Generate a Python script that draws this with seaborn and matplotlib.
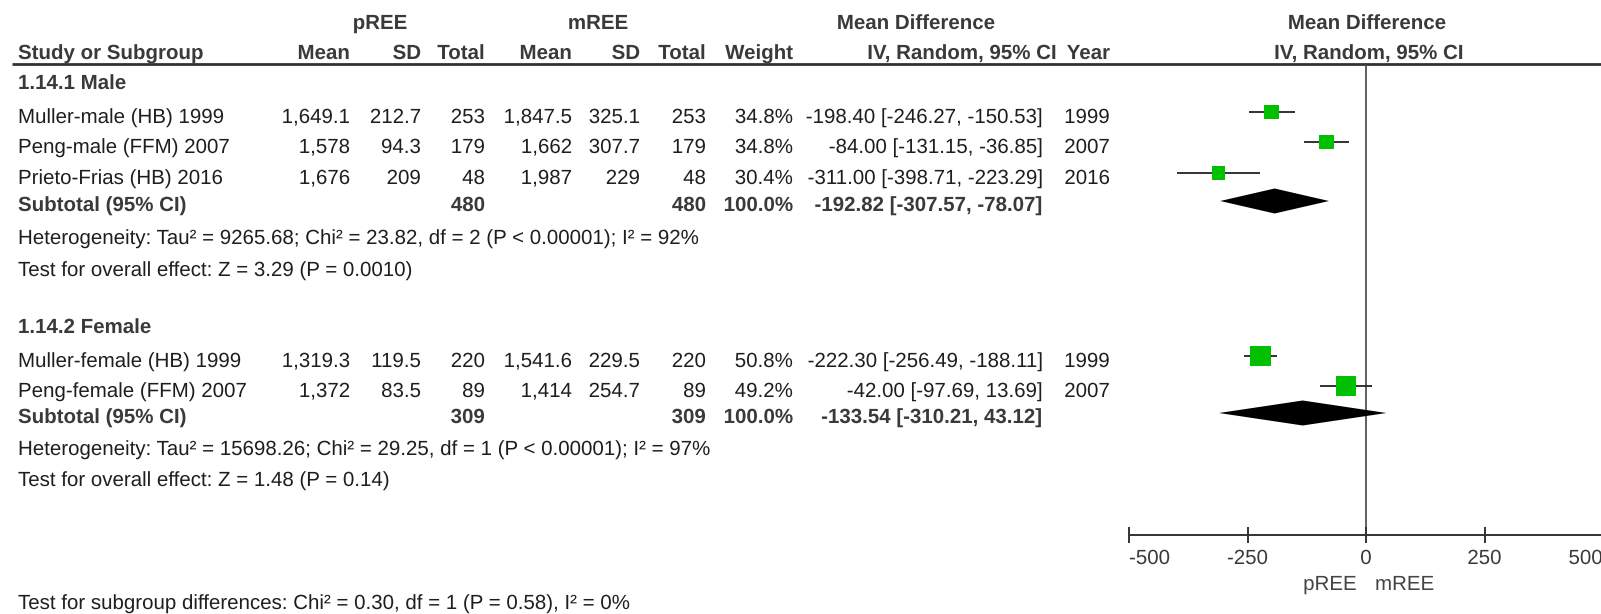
import matplotlib
matplotlib.use("Agg")
import matplotlib.pyplot as plt
import matplotlib.patheffects as pe
import pandas as pd
import seaborn as sns

# ---- study-level data -------------------------------------------------
study = ["Muller-male (HB) 1999", "Peng-male (FFM) 2007", "Prieto-Frias (HB) 2016",
         "Muller-female (HB) 1999", "Peng-female (FFM) 2007"]
subgroup = ["Male", "Male", "Male", "Female", "Female"]
p_mean = [1649.1, 1578, 1676, 1319.3, 1372]
p_sd = [212.7, 94.3, 209, 119.5, 83.5]
p_n = [253, 179, 48, 220, 89]
m_mean = [1847.5, 1662, 1987, 1541.6, 1414]
m_sd = [325.1, 307.7, 229, 229.5, 254.7]
m_n = [253, 179, 48, 220, 89]
weight = [34.8, 34.8, 30.4, 50.8, 49.2]
md = [-198.40, -84.00, -311.00, -222.30, -42.00]
ci_lo = [-246.27, -131.15, -398.71, -256.49, -97.69]
ci_hi = [-150.53, -36.85, -223.29, -188.11, 13.69]
year = [1999, 2007, 2016, 1999, 2007]

# ---- subgroup summaries -----------------------------------------------
groups = ["Male", "Female"]
group_titles = ["1.14.1 Male", "1.14.2 Female"]
sub_n = [480, 309]
sub_weight = [100.0, 100.0]
sub_md = [-192.82, -133.54]
sub_lo = [-307.57, -310.21]
sub_hi = [-78.07, 43.12]
heterogeneity = [
    "Heterogeneity: Tau\u00b2 = 9265.68; Chi\u00b2 = 23.82, df = 2 (P < 0.00001); I\u00b2 = 92%",
    "Heterogeneity: Tau\u00b2 = 15698.26; Chi\u00b2 = 29.25, df = 1 (P < 0.00001); I\u00b2 = 97%",
]
overall = [
    "Test for overall effect: Z = 3.29 (P = 0.0010)",
    "Test for overall effect: Z = 1.48 (P = 0.14)",
]
subgroup_test = "Test for subgroup differences: Chi\u00b2 = 0.30, df = 1 (P = 0.58), I\u00b2 = 0%"
axis_ticks = [-500, -250, 0, 250, 500]
favours = ["pREE", "mREE"]

# ---- figure set-up -----------------------------------------------------
sns.set_theme(style="white")
plt.rcParams["font.family"] = "Liberation Sans"
W, H, DPI = 1601, 614, 100
FS = 14.75
HEAD = "#3a3a3a"
BODY = "#1e1e1e"
LINE = "#333333"
GREEN = "#00c000"
AS_PATH = [pe.Normal()]   # draw glyphs as outlines so baselines line up exactly

fig = plt.figure(figsize=(W / DPI, H / DPI), dpi=DPI, facecolor="white")

# table layer, coordinates in pixels (y downwards)
tx = fig.add_axes([0, 0, 1, 1])
tx.set_xlim(0, W)
tx.set_ylim(H, 0)
tx.axis("off")

# forest panel: x in mean-difference units, y in pixels
PX0 = 1100
ZERO_PX = 1366
PX_PER_UNIT = 118.5 / 250
fx = fig.add_axes([PX0 / W, 0, (W - PX0) / W, 1])
fx.patch.set_alpha(0)


def put(x, y, s, ha="left", bold=False, color=None, ax=tx):
    ax.text(x, y, s, ha=ha, va="baseline", fontsize=FS,
            fontweight="bold" if bold else "normal",
            color=color or (HEAD if bold else BODY), path_effects=AS_PATH)


def fmt_num(v):
    return format(v, ",")


# column anchors (pixels)
X_STUDY = 18
X_PMEAN, X_PSD, X_PN = 350, 421, 485
X_MMEAN, X_MSD, X_MN = 572, 640, 706
X_W = 793
X_CI = 1043
X_YEAR = 1110

# headers
put(380, 29, "pREE", "center", True)
put(598, 29, "mREE", "center", True)
put(916, 29, "Mean Difference", "center", True)
put(1367, 29, "Mean Difference", "center", True)
put(X_STUDY, 59, "Study or Subgroup", bold=True)
for x, s in [(X_PMEAN, "Mean"), (X_PSD, "SD"), (X_PN, "Total"),
             (X_MMEAN, "Mean"), (X_MSD, "SD"), (X_MN, "Total"),
             (X_W, "Weight"), (1057, "IV, Random, 95% CI"), (X_YEAR, "Year")]:
    put(x, 59, s, "right", True)
put(1369, 59, "IV, Random, 95% CI", "center", True)
tx.hlines(64, 12, W, color=LINE, lw=2.0)

# row baselines (pixels)
title_base = [89, 333]
study_base = [123, 153, 184, 367, 397]
sub_base = [211, 423]
het_base = [244, 455]
ovr_base = [276, 486]

for g, title in enumerate(group_titles):
    put(X_STUDY, title_base[g], title, bold=True)
    put(X_STUDY, sub_base[g], "Subtotal (95% CI)", bold=True)
    put(X_PN, sub_base[g], str(sub_n[g]), "right", True)
    put(X_MN, sub_base[g], str(sub_n[g]), "right", True)
    put(X_W, sub_base[g], f"{sub_weight[g]:.1f}%", "right", True)
    put(X_CI, sub_base[g], f"{sub_md[g]:.2f} [{sub_lo[g]:.2f}, {sub_hi[g]:.2f}]", "right", True)
    put(X_STUDY, het_base[g], heterogeneity[g])
    put(X_STUDY, ovr_base[g], overall[g])

for i, name in enumerate(study):
    b = study_base[i]
    put(X_STUDY, b, name)
    put(X_PMEAN, b, fmt_num(p_mean[i]), "right")
    put(X_PSD, b, str(p_sd[i]), "right")
    put(X_PN, b, str(p_n[i]), "right")
    put(X_MMEAN, b, fmt_num(m_mean[i]), "right")
    put(X_MSD, b, str(m_sd[i]), "right")
    put(X_MN, b, str(m_n[i]), "right")
    put(X_W, b, f"{weight[i]:.1f}%", "right")
    put(X_CI, b, f"{md[i]:.2f} [{ci_lo[i]:.2f}, {ci_hi[i]:.2f}]", "right")
    put(X_YEAR, b, str(year[i]), "right")

put(X_STUDY, 609, subgroup_test)

# ---- forest panel ------------------------------------------------------
marker_y = [b - 11 for b in study_base]
side_px = [3 + 0.343 * w for w in weight]
area = [(s * 72 / DPI) ** 2 for s in side_px]
df = pd.DataFrame({"study": study, "md": md, "lo": ci_lo, "hi": ci_hi,
                   "y": marker_y, "area": area})

fx.hlines(df["y"], df["lo"], df["hi"], color="#222222", lw=1.3, zorder=2)
sns.scatterplot(data=df, x="md", y="y", size="area",
                sizes=(min(area), max(area)), size_norm=(min(area), max(area)),
                marker="s", color=GREEN, linewidth=0, legend=False,
                zorder=3, ax=fx)

# pooled diamonds
for g in range(len(groups)):
    yc = sub_base[g] - 10
    h = 12.5
    fx.fill([sub_lo[g], sub_md[g], sub_hi[g], sub_md[g]],
            [yc, yc - h, yc, yc + h], color="black", lw=0, zorder=3)

# line of no effect and scale
AXIS_Y = 535
fx.vlines(0, 64, AXIS_Y, color="#444444", lw=1.2, zorder=1)
fx.hlines(AXIS_Y, axis_ticks[0], axis_ticks[-1], color=LINE, lw=1.4)
fx.vlines(axis_ticks, AXIS_Y - 8, AXIS_Y + 8, color=LINE, lw=1.4)
for k, t in enumerate(axis_ticks):
    ha = "left" if k == 0 else ("right" if k == len(axis_ticks) - 1 else "center")
    put(t, 564, str(t), ha, color=HEAD, ax=fx)
put(-20, 590, favours[0], "right", color="#444444", ax=fx)
put(19, 590, favours[1], "left", color="#444444", ax=fx)

fx.set_xlim((PX0 - ZERO_PX) / PX_PER_UNIT, (W - ZERO_PX) / PX_PER_UNIT)
fx.set_ylim(H, 0)
fx.axis("off")

fig.savefig("out.png", dpi=DPI, facecolor="white")
